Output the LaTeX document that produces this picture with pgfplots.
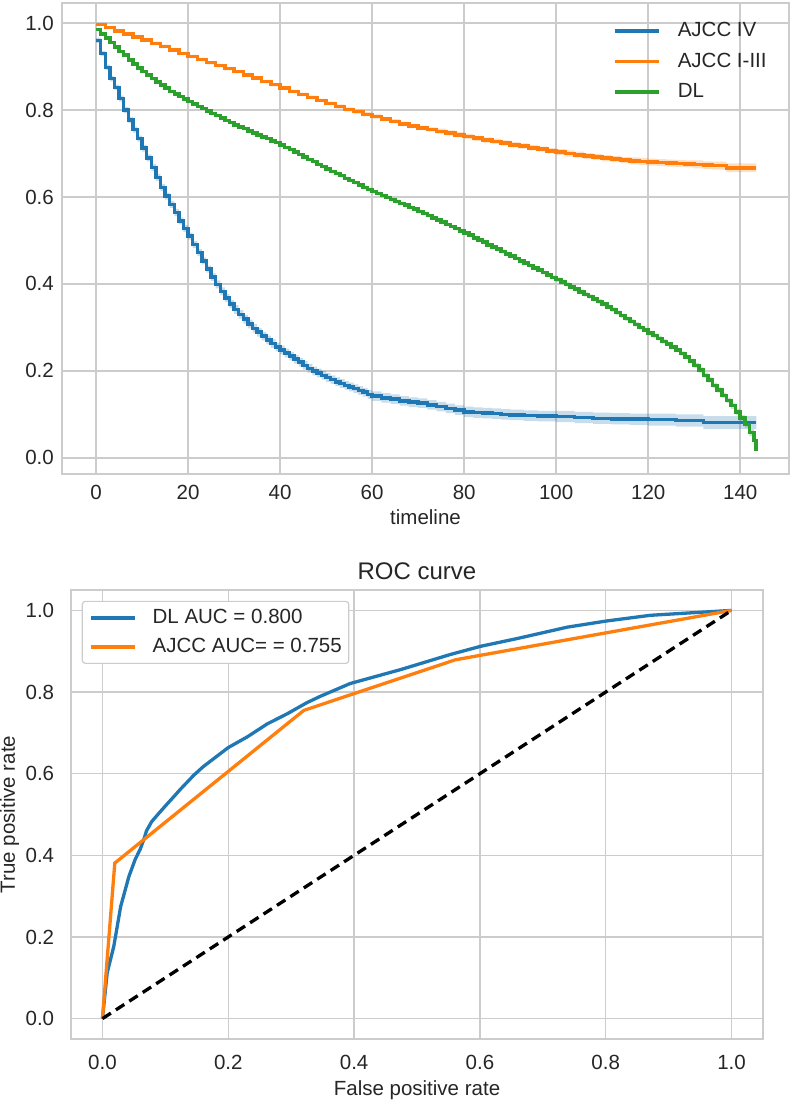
\documentclass[border=0pt]{standalone}
\usepackage{fontspec}
\setmainfont{Liberation Sans}
\usepackage{pgfplots}
\pgfplotsset{compat=1.18}
\usepgfplotslibrary{fillbetween}
\usepackage{pgfplotstable}

\definecolor{tabblue}{HTML}{1F77B4}
\definecolor{taborange}{HTML}{FF7F0E}
\definecolor{tabgreen}{HTML}{2CA02C}
\definecolor{gridgray}{HTML}{CCCCCC}
\definecolor{txt}{HTML}{262626}
\newcommand{\fs}{\fontsize{20.5pt}{24pt}\selectfont}

% AJCC IV: time, survival, half-width of band
\pgfplotstableread{
t s e
0 0.960 0.006
1 0.930 0.006
2 0.898 0.006
3 0.872 0.006
4 0.852 0.006
5 0.826 0.007
6 0.800 0.007
7 0.777 0.007
8 0.755 0.007
9 0.734 0.007
10 0.712 0.008
11 0.690 0.008
12 0.668 0.008
13 0.645 0.008
14 0.622 0.008
15 0.602 0.008
16 0.583 0.008
17 0.564 0.008
18 0.545 0.008
19 0.527 0.008
20 0.510 0.008
21 0.491 0.008
22 0.472 0.008
23 0.453 0.008
24 0.434 0.008
25 0.416 0.009
26 0.399 0.009
27 0.383 0.009
28 0.368 0.009
29 0.354 0.009
30 0.341 0.010
31 0.330 0.010
32 0.319 0.010
33 0.308 0.010
34 0.298 0.010
35 0.289 0.010
36 0.280 0.010
37 0.271 0.010
38 0.263 0.010
39 0.255 0.010
40 0.248 0.010
41 0.241 0.010
42 0.234 0.010
43 0.227 0.010
44 0.220 0.010
45 0.213 0.010
46 0.206 0.010
47 0.200 0.010
48 0.195 0.010
49 0.190 0.010
50 0.185 0.010
51 0.180 0.010
52 0.175 0.010
53 0.171 0.010
54 0.167 0.010
55 0.163 0.010
56 0.159 0.010
57 0.155 0.010
58 0.151 0.010
59 0.146 0.010
60 0.142 0.011
62 0.138 0.011
64 0.135 0.011
66 0.131 0.011
68 0.128 0.011
70 0.126 0.011
72 0.122 0.011
74 0.118 0.011
76 0.114 0.011
78 0.110 0.011
80 0.106 0.012
82 0.104 0.012
84 0.103 0.012
86 0.102 0.012
88 0.100 0.012
90 0.099 0.012
93 0.097 0.012
96 0.096 0.012
100 0.095 0.013
104 0.093 0.013
108 0.091 0.013
112 0.090 0.013
116 0.089 0.013
120 0.088 0.014
126 0.086 0.014
132 0.081 0.015
143.5 0.081 0.015
}\bluedata

% AJCC I-III
\pgfplotstableread{
t s e
0 0.997 0.003
2 0.990 0.003
4 0.982 0.003
6 0.975 0.003
8 0.968 0.003
10 0.961 0.004
12 0.953 0.004
14 0.946 0.004
16 0.938 0.004
18 0.930 0.004
20 0.923 0.004
22 0.916 0.004
24 0.909 0.004
26 0.902 0.004
28 0.895 0.004
30 0.888 0.004
32 0.880 0.004
34 0.873 0.004
36 0.865 0.004
38 0.858 0.004
40 0.850 0.004
42 0.843 0.004
44 0.836 0.004
46 0.829 0.004
48 0.822 0.004
50 0.815 0.004
52 0.808 0.005
54 0.801 0.005
56 0.796 0.005
58 0.790 0.005
60 0.785 0.005
62 0.779 0.005
64 0.774 0.005
66 0.768 0.005
68 0.763 0.005
70 0.759 0.005
72 0.755 0.005
74 0.751 0.006
76 0.747 0.006
78 0.743 0.006
80 0.739 0.006
82 0.735 0.006
84 0.731 0.006
86 0.728 0.006
88 0.724 0.006
90 0.720 0.006
92 0.717 0.006
94 0.713 0.006
96 0.710 0.006
98 0.706 0.006
100 0.703 0.007
102 0.700 0.007
104 0.697 0.007
106 0.694 0.007
108 0.692 0.007
110 0.689 0.007
112 0.687 0.007
114 0.685 0.007
116 0.683 0.008
118 0.681 0.008
120 0.680 0.008
122 0.679 0.008
124 0.678 0.008
126 0.677 0.008
128 0.676 0.008
130 0.675 0.009
132 0.673 0.009
134 0.672 0.009
137 0.667 0.010
143.5 0.667 0.010
}\orangedata

% DL
\pgfplotstableread{
t s e
0 0.985 0.003
1 0.975 0.003
2 0.965 0.003
3 0.955 0.003
4 0.945 0.003
5 0.935 0.003
6 0.926 0.003
7 0.915 0.003
8 0.906 0.003
9 0.897 0.003
10 0.888 0.003
11 0.880 0.003
12 0.872 0.003
13 0.864 0.003
14 0.857 0.003
15 0.850 0.003
16 0.843 0.003
17 0.837 0.003
18 0.831 0.003
19 0.825 0.003
20 0.819 0.003
21 0.814 0.003
22 0.808 0.003
23 0.803 0.003
24 0.798 0.003
25 0.792 0.003
26 0.787 0.003
27 0.782 0.003
28 0.776 0.003
29 0.771 0.003
30 0.766 0.003
31 0.761 0.003
32 0.757 0.003
33 0.752 0.003
34 0.747 0.003
35 0.743 0.003
36 0.738 0.003
37 0.734 0.003
38 0.729 0.003
39 0.725 0.003
40 0.720 0.003
41 0.714 0.003
42 0.709 0.003
43 0.703 0.003
44 0.698 0.003
45 0.692 0.003
46 0.686 0.003
47 0.681 0.003
48 0.675 0.003
49 0.670 0.003
50 0.664 0.004
51 0.659 0.004
52 0.654 0.004
53 0.649 0.004
54 0.643 0.004
55 0.638 0.004
56 0.633 0.004
57 0.628 0.004
58 0.622 0.004
59 0.617 0.004
60 0.612 0.004
61 0.608 0.004
62 0.603 0.004
63 0.599 0.004
64 0.594 0.004
65 0.590 0.004
66 0.585 0.004
67 0.581 0.004
68 0.576 0.004
69 0.572 0.004
70 0.567 0.004
71 0.562 0.004
72 0.557 0.004
73 0.552 0.004
74 0.547 0.004
75 0.542 0.004
76 0.537 0.004
77 0.532 0.004
78 0.527 0.004
79 0.522 0.004
80 0.517 0.004
81 0.512 0.004
82 0.506 0.004
83 0.501 0.004
84 0.496 0.004
85 0.490 0.004
86 0.485 0.004
87 0.480 0.004
88 0.475 0.004
89 0.469 0.004
90 0.464 0.004
91 0.459 0.004
92 0.453 0.004
93 0.448 0.004
94 0.442 0.004
95 0.437 0.004
96 0.432 0.004
97 0.426 0.004
98 0.421 0.004
99 0.415 0.004
100 0.410 0.005
101 0.404 0.005
102 0.399 0.005
103 0.393 0.005
104 0.388 0.005
105 0.382 0.005
106 0.376 0.005
107 0.371 0.005
108 0.365 0.005
109 0.360 0.005
110 0.354 0.005
111 0.347 0.005
112 0.341 0.005
113 0.334 0.005
114 0.327 0.005
115 0.320 0.005
116 0.314 0.005
117 0.307 0.005
118 0.300 0.005
119 0.294 0.005
120 0.287 0.005
121 0.281 0.005
122 0.275 0.005
123 0.268 0.005
124 0.262 0.005
125 0.255 0.005
126 0.248 0.005
127 0.240 0.005
128 0.232 0.005
129 0.223 0.005
130 0.213 0.006
131 0.202 0.006
132 0.190 0.006
133 0.179 0.006
134 0.167 0.006
135 0.156 0.006
136 0.144 0.006
137 0.132 0.006
138 0.120 0.007
139 0.106 0.007
140 0.092 0.007
141 0.077 0.008
142 0.058 0.008
143 0.040 0.009
143.4 0.015 0.009
}\greendata

\pgfplotsset{
  sea/.style={
    scale only axis,
    axis line style={gridgray, line width=1.8pt},
    grid=major,
    major grid style={gridgray, line width=1.5pt},
    major tick length=0pt,
    tick style={draw=none},
    /pgf/number format/assume math mode=true,
    tick label style={font=\fs, text=txt},
    label style={font=\fs, text=txt},
    yticklabel style={/pgf/number format/fixed, /pgf/number format/fixed zerofill, /pgf/number format/precision=1},
    legend cell align=left,
    legend image code/.code={\draw[##1] plot coordinates {(0pt,0pt) (22pt,0pt) (44pt,0pt)};},
  }
}

\begin{document}
\begin{tikzpicture}
\path (0,0) rectangle (789pt,1100pt);

% ---------------- Kaplan-Meier panel ----------------
\begin{axis}[sea,
  at={(61pt,626pt)}, anchor=south west,
  width=727pt, height=471pt,
  xmin=-7.4, xmax=150.6, ymin=-0.037, ymax=1.046,
  xtick={0,20,...,140}, ytick={0,0.2,0.4,0.6,0.8,1.0},
  xticklabel style={anchor=north, inner sep=0pt, yshift=-11pt},
  yticklabel style={anchor=east, inner sep=0pt, xshift=-8pt},
  xlabel={timeline},
  xlabel style={at={(axis description cs:0.5,0)}, anchor=north, inner sep=0pt, yshift=-35pt},
  legend style={at={(axis description cs:0.758,0.961)}, anchor=north west,
    draw=none, fill=none, inner sep=0pt, font=\fs, text=txt,
    row sep=11.5pt, column sep=17pt,
    nodes={inner sep=0pt, text height=15pt, text depth=4pt}},
]
% confidence bands
\addplot[const plot, draw=none, name path=bu, forget plot] table[x=t, y expr=\thisrow{s}+\thisrow{e}] {\bluedata};
\addplot[const plot, draw=none, name path=bl, forget plot] table[x=t, y expr=\thisrow{s}-\thisrow{e}] {\bluedata};
\addplot[fill=tabblue, fill opacity=0.25, draw=none, forget plot] fill between[of=bu and bl];
\addplot[const plot, draw=none, name path=ou, forget plot] table[x=t, y expr=\thisrow{s}+\thisrow{e}] {\orangedata};
\addplot[const plot, draw=none, name path=ol, forget plot] table[x=t, y expr=\thisrow{s}-\thisrow{e}] {\orangedata};
\addplot[fill=taborange, fill opacity=0.25, draw=none, forget plot] fill between[of=ou and ol];
\addplot[const plot, draw=none, name path=gu, forget plot] table[x=t, y expr=\thisrow{s}+\thisrow{e}] {\greendata};
\addplot[const plot, draw=none, name path=gl, forget plot] table[x=t, y expr=\thisrow{s}-\thisrow{e}] {\greendata};
\addplot[fill=tabgreen, fill opacity=0.25, draw=none, forget plot] fill between[of=gu and gl];
% survival curves
\addplot[const plot, tabblue, line width=3.5pt] table[x=t, y=s] {\bluedata};
\addlegendentry{AJCC IV}
\addplot[const plot, taborange, line width=3.5pt] table[x=t, y=s] {\orangedata};
\addlegendentry{AJCC I-III}
\addplot[const plot, tabgreen, line width=3.5pt] table[x=t, y=s] {\greendata};
\addlegendentry{DL}
\end{axis}

% ---------------- ROC panel ----------------
\begin{axis}[sea,
  at={(70pt,61pt)}, anchor=south west,
  width=692pt, height=449pt,
  xmin=-0.05, xmax=1.05, ymin=-0.05, ymax=1.05,
  xtick={0,0.2,0.4,0.6,0.8,1.0}, ytick={0,0.2,0.4,0.6,0.8,1.0},
  xticklabel style={anchor=north, inner sep=0pt, yshift=-16pt, /pgf/number format/fixed, /pgf/number format/fixed zerofill, /pgf/number format/precision=1},
  yticklabel style={anchor=east, inner sep=0pt, xshift=-16.7pt},
  title={ROC curve},
  title style={at={(axis description cs:0.5,1)}, anchor=base, inner sep=0pt, yshift=4pt,
    font=\fontsize{24pt}{28pt}\selectfont, text=txt},
  xlabel={False positive rate},
  xlabel style={at={(axis description cs:0.5,0)}, anchor=north, inner sep=0pt, yshift=-41pt},
  ylabel={True positive rate},
  ylabel style={at={(axis description cs:0,0.5)}, rotate=0, anchor=south, inner sep=0pt, yshift=51.7pt},
  legend style={at={(axis description cs:0.0155,0.976)}, anchor=north west,
    draw=gridgray, line width=1.2pt, rounded corners=3pt, fill=white, inner sep=7pt,
    font=\fs, text=txt, row sep=10pt, column sep=16pt,
    nodes={inner sep=0pt, text height=15pt, text depth=4pt}},
]
\addplot[tabblue, line width=3.3pt] coordinates {
(0,0) (0.0075,0.112) (0.018,0.177) (0.029,0.275) (0.042,0.348) (0.052,0.390)
(0.060,0.415) (0.066,0.440) (0.070,0.460) (0.078,0.482) (0.088,0.500) (0.100,0.521) (0.113,0.543)
(0.124,0.562) (0.145,0.596) (0.160,0.617) (0.177,0.637) (0.200,0.664) (0.230,0.690)
(0.262,0.722) (0.294,0.747) (0.325,0.774) (0.347,0.790) (0.394,0.821) (0.474,0.855)
(0.553,0.892) (0.601,0.912) (0.659,0.931) (0.739,0.959) (0.801,0.974) (0.871,0.988)
(0.935,0.994) (1,1)};
\addlegendentry{DL AUC = 0.800}
\addplot[taborange, line width=3.3pt] coordinates {
(0,0) (0.0196,0.381) (0.320,0.755) (0.561,0.879) (1,1)};
\addlegendentry{AJCC AUC= = 0.755}
\addplot[black, line width=3.3pt, dash pattern=on 10pt off 6pt, forget plot] coordinates {(0,0) (1,1)};
\end{axis}
\end{tikzpicture}
\end{document}
